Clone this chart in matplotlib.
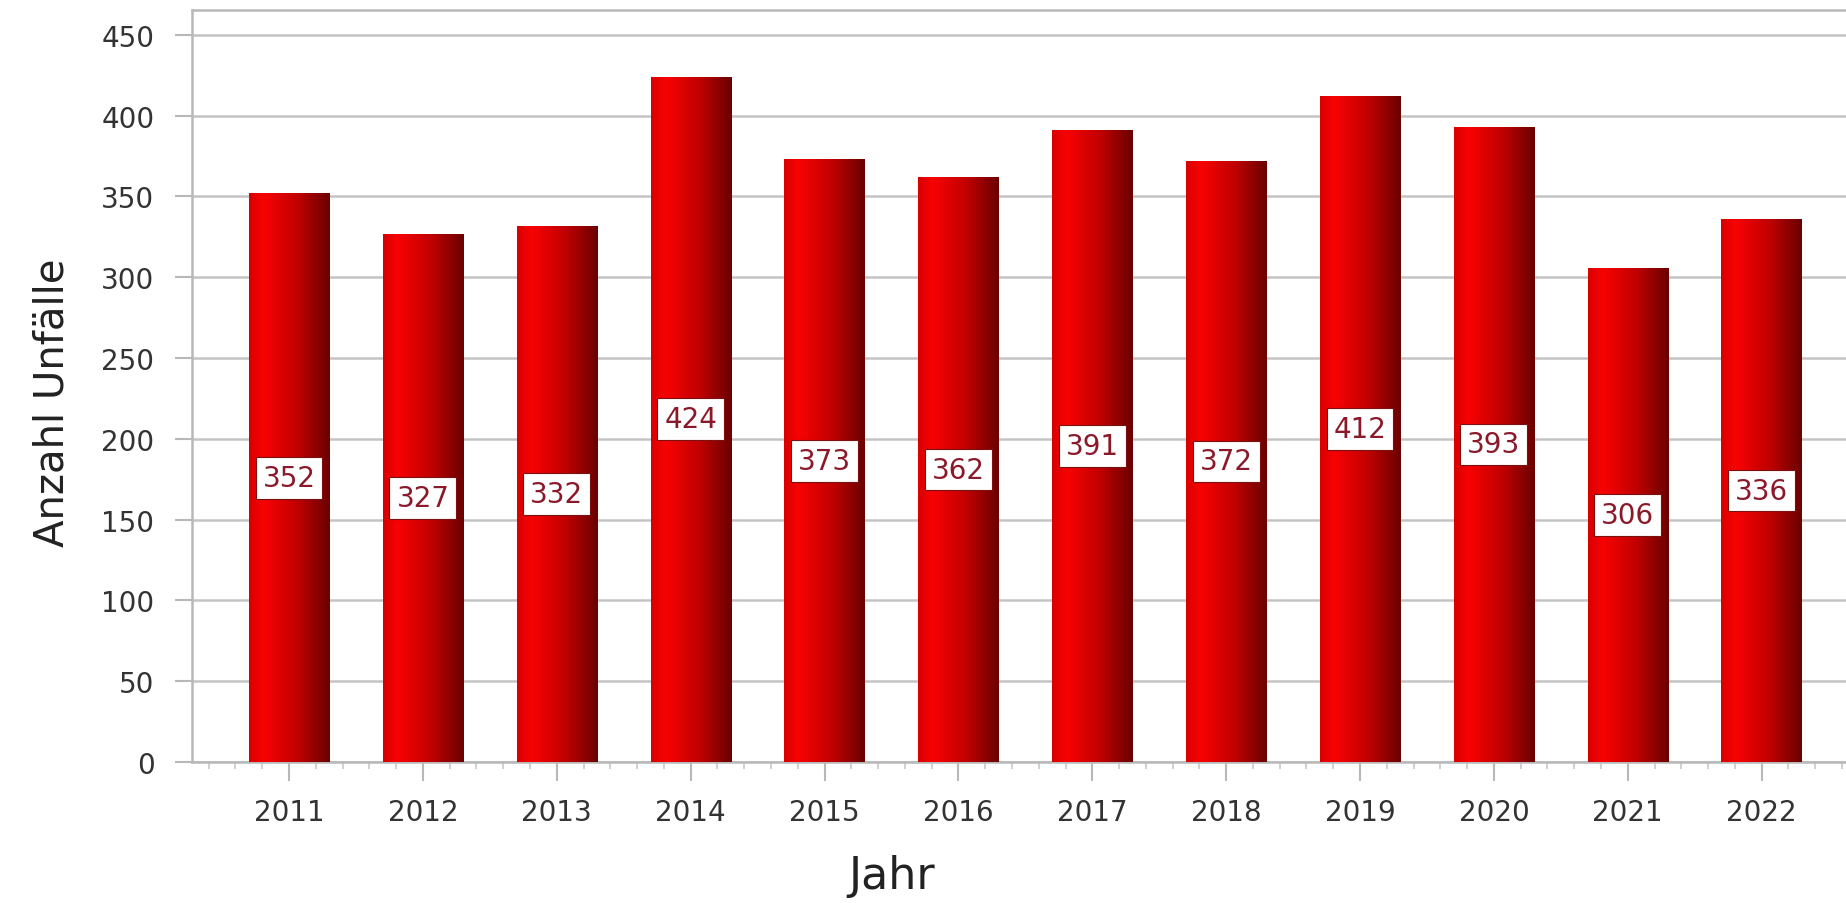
import numpy as np
import matplotlib.pyplot as plt
from matplotlib.colors import LinearSegmentedColormap
from matplotlib.ticker import MultipleLocator

# Daten
jahre = ['2011', '2012', '2013', '2014', '2015', '2016',
         '2017', '2018', '2019', '2020', '2021', '2022']
unfaelle = [352, 327, 332, 424, 373, 362, 391, 372, 412, 393, 306, 336]

plt.rcParams['font.family'] = ['DejaVu Sans']

fig = plt.figure(figsize=(18.46, 9.04), dpi=100)
ax = fig.add_axes([0.104, 0.156, 0.896, 0.832])

x = np.arange(len(jahre))
bars = ax.bar(x, unfaelle, width=0.6, color='none', edgecolor='none', zorder=3)

# Farbverlauf links hell -> rechts dunkel
cm = LinearSegmentedColormap.from_list('rot', [(0.0, '#d80000'), (0.18, '#f80303'),
                                               (0.6, '#c00000'), (1.0, '#6a0000')])
grad = np.linspace(0, 1, 256).reshape(1, -1)
for b in bars:
    x0, y0 = b.get_x(), b.get_y()
    w, h = b.get_width(), b.get_height()
    im = ax.imshow(grad, cmap=cm, aspect='auto', extent=[x0, x0 + w, y0, y0 + h],
                   zorder=3, interpolation='bicubic')
    im.set_clip_path(b)

# Werte-Labels in der Mitte der Balken
for xi, v in zip(x, unfaelle):
    ax.text(xi, v / 2, str(v), ha='center', va='center', fontsize=20, color='#8a1a2a',
            zorder=5, bbox=dict(boxstyle='square,pad=0.25', fc='white', ec='#7a1010', lw=0.8))

ax.set_xlim(-0.725, 11.63)
ax.set_ylim(0, 465.5)
ax.set_xticks(x)
ax.set_xticklabels(jahre)
ax.xaxis.set_minor_locator(MultipleLocator(0.2))
ax.set_yticks(np.arange(0, 451, 50))

ax.grid(axis='y', color='#c4c4c4', linewidth=1.8, zorder=0)
ax.set_axisbelow(True)

for s in ['top', 'left', 'bottom']:
    ax.spines[s].set_color('#b8b8b8')
    ax.spines[s].set_linewidth(1.8)
ax.spines['right'].set_visible(False)

ax.tick_params(axis='y', length=12, width=1.5, color='#b8b8b8', pad=15,
               labelsize=20, labelcolor='#333333')
ax.tick_params(axis='x', which='major', length=14, width=1.5, color='#b8b8b8', pad=12,
               labelsize=20, labelcolor='#333333')
ax.tick_params(axis='x', which='minor', length=5, width=1.2, color='#c8c8c8')

ax.set_ylabel('Anzahl Unfälle', fontsize=29, color='#222222')
ax.yaxis.set_label_coords(-0.0725, 0.479)
ax.set_xlabel('Jahr', fontsize=32, color='#222222', va='baseline')
ax.xaxis.set_label_coords(0.423, -0.168)

plt.savefig('out.png', dpi=100)
